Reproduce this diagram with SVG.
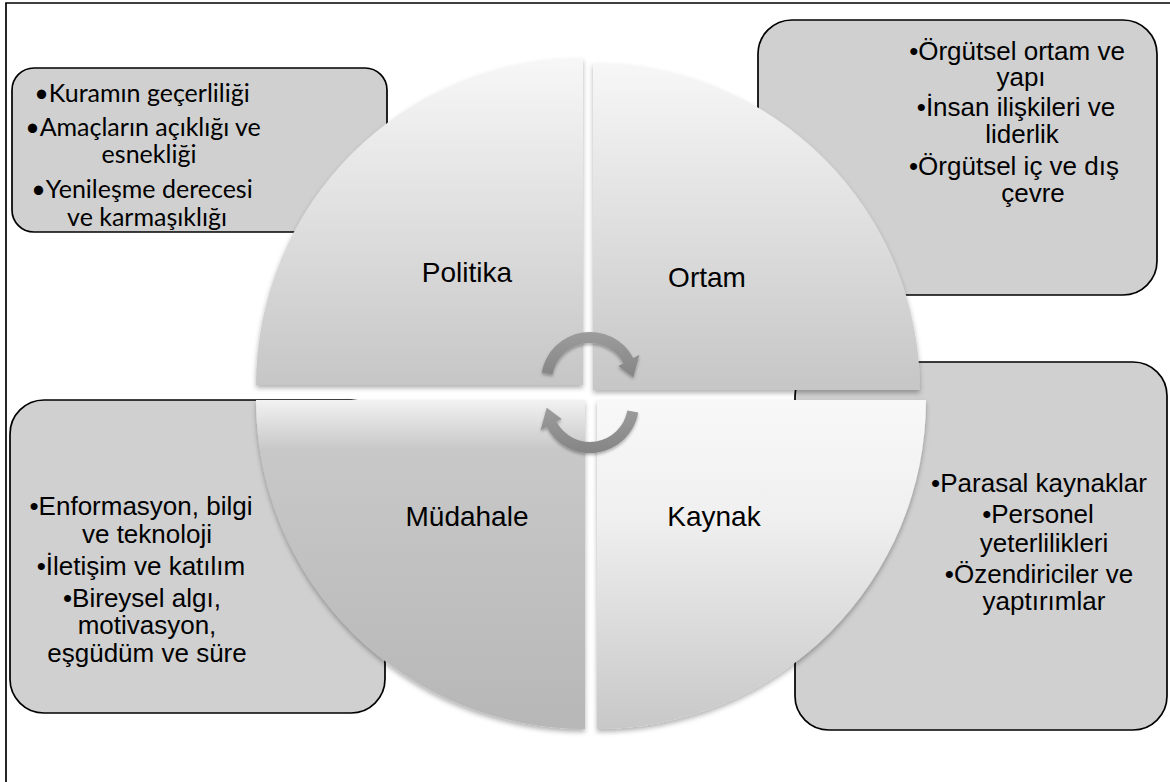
<svg xmlns="http://www.w3.org/2000/svg" width="1170" height="782" viewBox="0 0 1170 782">
<style>
.box{fill:#d0d0d0;stroke:#000;stroke-width:1.7}
.t{font-family:"Liberation Sans",Arial,sans-serif;font-size:26px;fill:#000;text-anchor:middle}
.c{font-family:Lato,"Open Sans",sans-serif;font-size:25px;fill:#000;text-anchor:middle}
.lab{font-family:"Liberation Sans",Arial,sans-serif;font-size:28px;fill:#000;text-anchor:middle}
.q{filter:url(#sh)}
.arr{fill:url(#ga);filter:url(#sh2)}
</style>
<defs>
<filter id="sh" x="-10%" y="-10%" width="120%" height="120%">
<feDropShadow dx="0" dy="3" stdDeviation="2.5" flood-color="#000" flood-opacity="0.3"/>
</filter>
<filter id="sh2" x="-20%" y="-20%" width="140%" height="140%">
<feDropShadow dx="0" dy="2" stdDeviation="1.5" flood-color="#000" flood-opacity="0.3"/>
</filter>
<linearGradient id="gp" x1="0" y1="0" x2="0" y2="1">
<stop offset="0" stop-color="#f7f7f7"/><stop offset="1" stop-color="#c6c6c6"/>
</linearGradient>
<linearGradient id="gm" x1="0" y1="0" x2="0" y2="1">
<stop offset="0" stop-color="#f2f2f2"/><stop offset="0.15" stop-color="#c8c8c8"/><stop offset="1" stop-color="#b7b7b7"/>
</linearGradient>
<linearGradient id="gk" x1="0" y1="0" x2="0" y2="1">
<stop offset="0" stop-color="#f8f8f8"/><stop offset="0.35" stop-color="#f0f0f0"/><stop offset="1" stop-color="#c8c8c8"/>
</linearGradient>
<linearGradient id="ga" x1="0" y1="0" x2="0" y2="1">
<stop offset="0" stop-color="#9c9c9c"/><stop offset="1" stop-color="#858585"/>
</linearGradient>
</defs>
<rect width="1170" height="782" fill="#fff"/>
<path d="M6,782 L6,3 L1170,3" fill="none" stroke="#000" stroke-width="1.7"/>

<g id="box-politika">
<rect class="box" x="12" y="68" width="375" height="164" rx="22"/>
<text class="c" x="142" y="102">•Kuramın geçerliliği</text>
<text class="c" x="143" y="136">•Amaçların açıklığı ve</text>
<text class="c" x="149" y="163">esnekliği</text>
<text class="c" x="142" y="198">•Yenileşme derecesi</text>
<text class="c" x="147" y="226">ve karmaşıklığı</text>
</g>
<g id="box-ortam">
<rect class="box" x="758" y="20" width="399" height="275" rx="34"/>
<text class="t" x="1017" y="60">•Örgütsel ortam ve</text>
<text class="t" x="1021" y="86">yapı</text>
<text class="t" x="1016" y="116">•İnsan ilişkileri ve</text>
<text class="t" x="1022" y="143">liderlik</text>
<text class="t" x="1014" y="175">•Örgütsel iç ve dış</text>
<text class="t" x="1033" y="202">çevre</text>
</g>
<g id="box-mudahale">
<rect class="box" x="10" y="400" width="375" height="313" rx="34"/>
<text class="t" x="141" y="515">•Enformasyon, bilgi</text>
<text class="t" x="147" y="543">ve teknoloji</text>
<text class="t" x="141" y="575">•İletişim ve katılım</text>
<text class="t" x="142" y="607">•Bireysel algı,</text>
<text class="t" x="147" y="634">motivasyon,</text>
<text class="t" x="147" y="662">eşgüdüm ve süre</text>
</g>
<g id="box-kaynak">
<rect class="box" x="795" y="362" width="372" height="368" rx="34"/>
<text class="t" x="1039" y="492">•Parasal kaynaklar</text>
<text class="t" x="1038" y="523">•Personel</text>
<text class="t" x="1044" y="552">yeterlilikleri</text>
<text class="t" x="1039" y="583">•Özendiriciler ve</text>
<text class="t" x="1044" y="610">yaptırımlar</text>
</g>

<g id="q-politika">
<path class="q" d="M583,385 L256,385 A327,327 0 0 1 583,58 Z" fill="url(#gp)"/>
<text class="lab" x="467" y="282">Politika</text>
</g>
<g id="q-ortam">
<path class="q" d="M593,390 L593,63 A327,327 0 0 1 920,390 Z" fill="url(#gp)"/>
<text class="lab" x="707" y="287">Ortam</text>
</g>
<g id="q-mudahale">
<path class="q" d="M585,400 L585,729 A329,329 0 0 1 256,400 Z" fill="url(#gm)"/>
<text class="lab" x="467" y="526">Müdahale</text>
</g>
<g id="q-kaynak">
<path class="q" d="M597,400 L926,400 A329,329 0 0 1 597,729 Z" fill="url(#gk)"/>
<text class="lab" x="714" y="526">Kaynak</text>
</g>

<g id="connectors">
<path class="arr" d="M541.7,372.5 A49,49 0 0 1 633.3,358 L639.4,354.7 L633.3,377.2 L618.3,366 L623.5,363.2 A38,38 0 0 0 552.6,374.4 Z"/>
<path class="arr" d="M638.3,412.5 A49,49 0 0 1 546.7,427 L540.6,430.3 L546.7,407.8 L561.7,419 L556.5,421.8 A38,38 0 0 0 627.4,410.6 Z"/>
</g>
</svg>
